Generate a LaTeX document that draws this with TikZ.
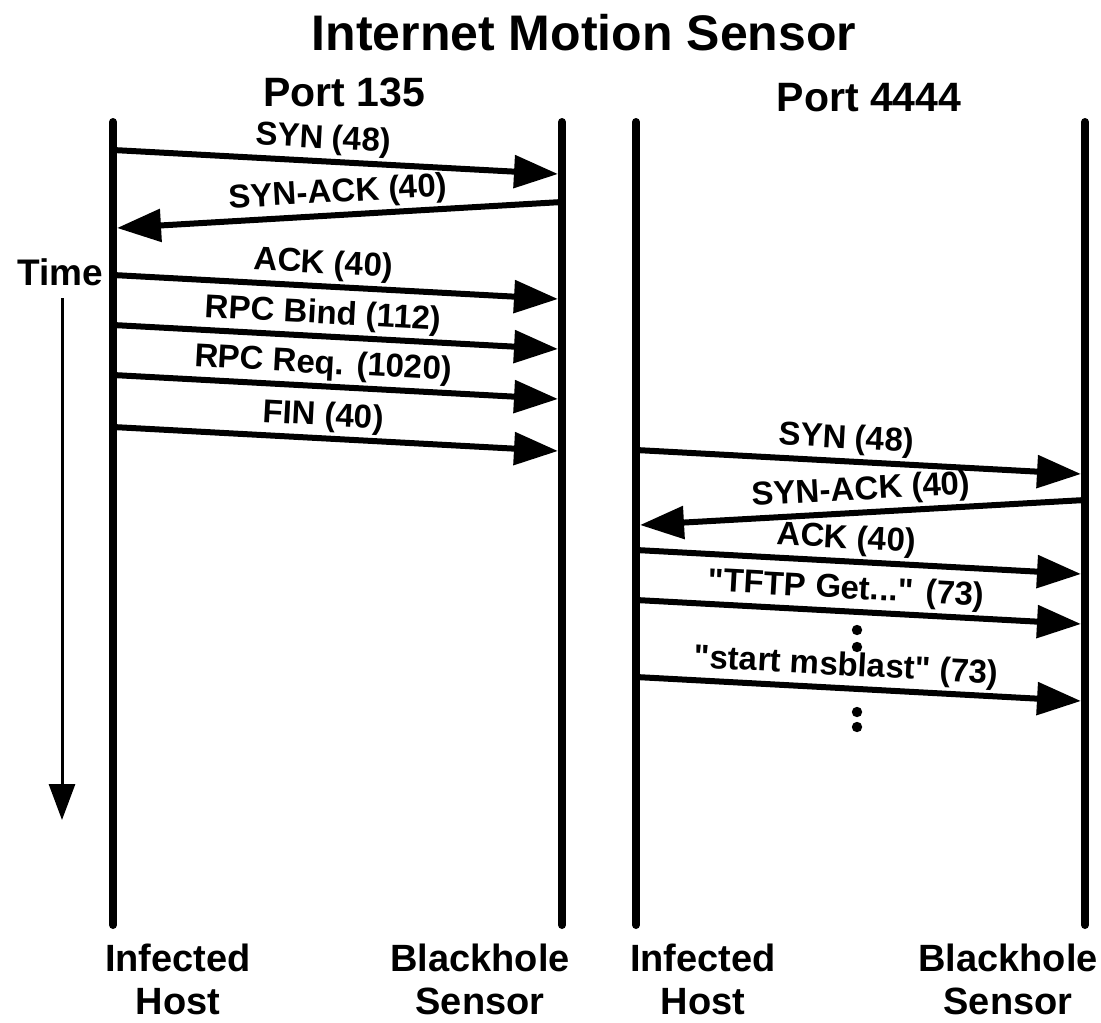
\documentclass[tikz,border=0pt]{standalone}
\usepackage{fontspec}
\setmainfont{Liberation Sans}
\usepackage{tikz}
\usetikzlibrary{arrows.meta}
\newcommand{\tftpGet}{\textquotedbl TFTP Get...\textquotedbl{} (73)}
\newcommand{\msblast}{\textquotedbl start msblast\textquotedbl{} (73)}

\tikzset{
  titlelabel/.style={font=\fontsize{25}{30}\selectfont\bfseries},
  portlabel/.style={font=\fontsize{20.5}{24}\selectfont\bfseries},
  endlabel/.style={align=center,font=\fontsize{19}{21.5}\selectfont\bfseries},
  lifeline/.style={line width=4pt,line cap=round},
  msg/.style={line width=3pt,-{Triangle[length=22pt,width=16pt]}},
  msglabel/.style={sloped,above,pos=.47,inner sep=1.5pt,
    font=\fontsize{16.5}{19}\selectfont\bfseries},
  timearrow/.style={line width=1.5pt,-{Triangle[length=18pt,width=13pt]}}
}

\begin{document}
\begin{tikzpicture}[x=0.5pt,y=-0.5pt]
  \useasboundingbox (0,0) rectangle (1101,1022);

  %% ---- headings ----
  \node[titlelabel] (title) at (584,33) {Internet Motion Sensor};
  \node[portlabel] (port135) at (344,92) {Port 135};
  \node[portlabel] (port4444) at (869,98) {Port 4444};

  %% ---- lifelines ----
  \coordinate (hostA-top) at (113,122);
  \coordinate (hostA-bot) at (113,925);
  \coordinate (sensA-top) at (562,122);
  \coordinate (sensA-bot) at (562,925);
  \coordinate (hostB-top) at (636,122);
  \coordinate (hostB-bot) at (636,925);
  \coordinate (sensB-top) at (1085,122);
  \coordinate (sensB-bot) at (1085,925);
  \draw[lifeline] (hostA-top) -- (hostA-bot);
  \draw[lifeline] (sensA-top) -- (sensA-bot);
  \draw[lifeline] (hostB-top) -- (hostB-bot);
  \draw[lifeline] (sensB-top) -- (sensB-bot);

  \node[endlabel] (hostA) at (178,979) {Infected\\Host};
  \node[endlabel] (sensA) at (480,979) {Blackhole\\Sensor};
  \node[endlabel] (hostB) at (703,979) {Infected\\Host};
  \node[endlabel] (sensB) at (1008,979) {Blackhole\\Sensor};

  %% ---- time axis ----
  \node[portlabel,font=\fontsize{18.5}{22}\selectfont\bfseries] (time) at (60,272) {Time};
  \coordinate (time-start) at (62,298);
  \coordinate (time-end) at (62,820);
  \draw[timearrow] (time-start) -- (time-end);

  %% ---- port 135: host -> sensor ----
  \foreach \y/\txt [count=\i] in {150/SYN (48),275/ACK (40),325/RPC Bind (112),
      375/RPC Req. (1020),427/FIN (40)} {
    \coordinate (a-from\i) at (113,\y);
    \coordinate (a-to\i) at (558,\y+24);
    \draw[msg] (a-from\i) -- (a-to\i) node[msglabel]{\txt};
  }
  %% sensor -> host
  \coordinate (a-back-from) at (562,202);
  \coordinate (a-back-to) at (117,228);
  \draw[msg] (a-back-from) -- (a-back-to) node[msglabel,pos=.5]{SYN-ACK (40)};

  %% ---- port 4444: host -> sensor ----
  \foreach \y/\txt [count=\i] in {450/SYN (48),550/ACK (40),
      600/\tftpGet,677/\msblast} {
    \coordinate (b-from\i) at (636,\y);
    \coordinate (b-to\i) at (1081,\y+24);
    \draw[msg] (b-from\i) -- (b-to\i) node[msglabel]{\txt};
  }
  %% sensor -> host
  \coordinate (b-back-from) at (1085,500);
  \coordinate (b-back-to) at (640,525);
  \draw[msg] (b-back-from) -- (b-back-to) node[msglabel,pos=.5]{SYN-ACK (40)};

  %% ---- omitted packets ----
  \foreach \y in {630,647,712,727}
    \fill (857,\y) circle (2.6pt);
\end{tikzpicture}
\end{document}
